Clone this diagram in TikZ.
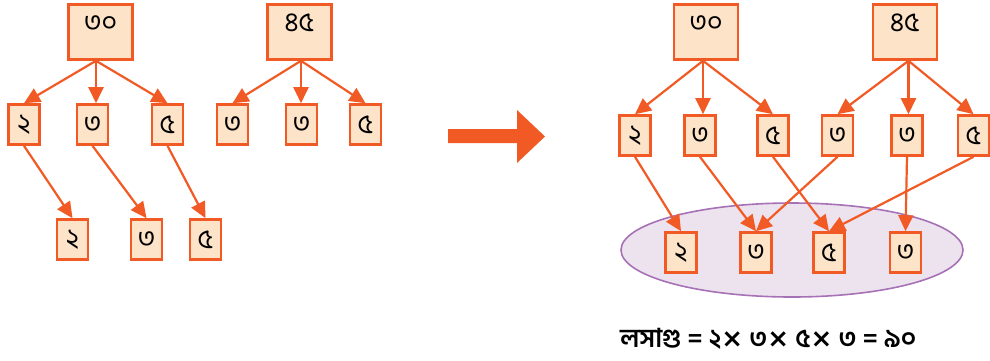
\documentclass[tikz,border=0pt]{standalone}
\usepackage{fontspec}
\newfontfamily\bn[Script=Bengali]{Hind Siliguri}
\newfontfamily\djvfont{DejaVu Sans}
\usetikzlibrary{arrows.meta,shapes.geometric}
\definecolor{org}{HTML}{F15A24}
\definecolor{peach}{HTML}{FDE3C8}
\definecolor{lav}{HTML}{EDE3EF}
\definecolor{purp}{HTML}{A772B5}
\tikzset{
  box/.style={draw=org, fill=peach, line width=2.6pt, inner sep=0pt, font=\bn\fontsize{27}{27}\selectfont},
  sbox/.style={box, minimum width=31pt, minimum height=40pt},
  bbox/.style={box, minimum width=64pt, minimum height=55pt},
  btxt/.style={inner sep=0pt, font=\bn\fontsize{27}{27}\selectfont},
  arr/.style={draw=org, line width=2.2pt, -{Triangle[length=16pt,width=15pt]}},
}
\newcommand{\tms}{{\djvfont\bfseries\fontsize{26}{26}\selectfont ×}}
\begin{document}
\begin{tikzpicture}[x=1pt,y=-1pt]
\useasboundingbox (0,0) rectangle (990,360);
% ---------- left ----------
\node[bbox] (t30) at (100.5,32) {};
\node[btxt] (t30t) at ([yshift=-20pt]t30.north) {৩০};
\node[bbox] (t45) at (299.5,32) {};
\node[btxt] (t45t) at ([yshift=-20pt]t45.north) {৪৫};
\coordinate (o1) at ([xshift=-4.5pt]t30.south);
\coordinate (o2) at ([xshift=1.5pt]t45.south);
\node[sbox] (m1) at (24,124.5) {২};
\node[sbox] (m2) at (92.5,124.5) {৩};
\node[sbox] (m3) at (167.5,124.5) {৫};
\node[sbox] (m4) at (232.5,124.5) {৩};
\node[sbox] (m5) at (301.5,124.5) {৩};
\node[sbox] (m6) at (365.5,124.5) {৫};
\node[sbox] (b1) at (72.5,239.5) {২};
\node[sbox] (b2) at (146.5,239.5) {৩};
\node[sbox] (b3) at (205.5,239.5) {৫};
\draw[arr] (o1) -- (m1.north);
\draw[arr] (o1) -- (o1 |- m2.north);
\draw[arr] (o1) -- (m3.north);
\draw[arr] (o2) -- (m4.north);
\draw[arr] (o2) -- (o2 |- m5.north);
\draw[arr] (o2) -- (m6.north);
\draw[arr] (m1.south) -- (b1.north);
\draw[arr] (m2.south) -- (b2.north);
\draw[arr] (m3.south) -- (b3.north);
% ---------- big arrow ----------
\fill[org] (448,129) -- (517,129) -- (517,110) -- (545,136.5) -- (517,163) -- (517,143) -- (448,143) -- cycle;
% ---------- right ----------
\node[draw=purp, fill=lav, line width=1.6pt, ellipse, minimum width=342pt, minimum height=94pt, inner sep=0pt] (ell) at (792,250) {};
\node[bbox] (T30) at (706,32) {};
\node[btxt] (T30t) at ([yshift=-20pt]T30.north) {৩০};
\node[bbox] (T45) at (905,32) {};
\node[btxt] (T45t) at ([yshift=-20pt]T45.north) {৪৫};
\coordinate (O1) at ([xshift=-3pt]T30.south);
\coordinate (O2) at ([xshift=3.5pt]T45.south);
\node[sbox] (M1) at (635,135.5) {২};
\node[sbox] (M2) at (700,135.5) {৩};
\node[sbox] (M3) at (773,135.5) {৫};
\node[sbox] (M4) at (837.5,135.5) {৩};
\node[sbox] (M5) at (907,135.5) {৩};
\node[sbox] (M6) at (973.5,135.5) {৫};
\node[sbox] (B1) at (681,252.5) {২};
\node[sbox] (B2) at (756,252.5) {৩};
\node[sbox] (B3) at (829,252.5) {৫};
\node[sbox] (B4) at (905.5,252.5) {৩};
\draw[arr] (O1) -- (M1.north);
\draw[arr] (O1) -- (O1 |- M2.north);
\draw[arr] (O1) -- (M3.north);
\draw[arr] (O2) -- (M4.north);
\draw[arr] (O2) -- (O2 |- M5.north);
\draw[arr] (O2) -- (M6.north);
\draw[arr] (M1.south) -- (B1.north);
\draw[arr] (M2.south) -- (B2.north);
\draw[arr] (M3.south) -- (B3.north);
\draw[arr] (M4.south) -- (B2.north);
\draw[arr] (M5.south) -- (B4.north);
\draw[arr] (M6.south) -- (B3.north);
\node[anchor=base west, inner sep=0pt, font=\bn\bfseries\fontsize{26}{26}\selectfont] (lcm) at (620,347) {লসাগু = ২\tms{} ৩\tms{} ৫\tms{} ৩ = ৯০};
\end{tikzpicture}
\end{document}
